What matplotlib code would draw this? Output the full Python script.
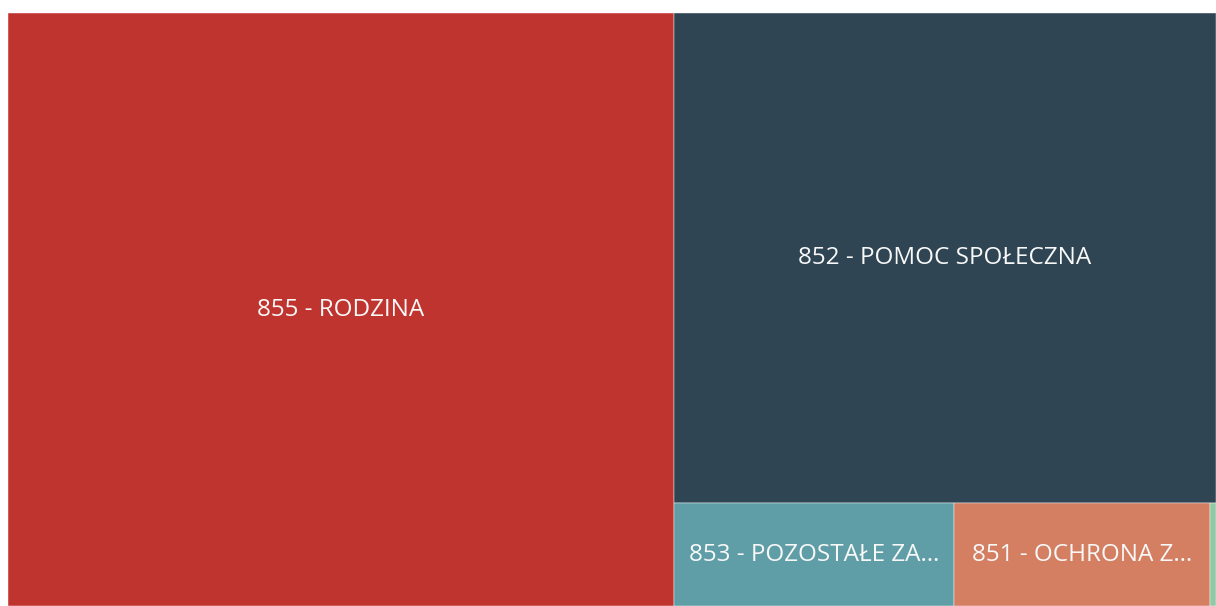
import matplotlib
matplotlib.use("Agg")
import matplotlib.pyplot as plt
from matplotlib.patches import Rectangle

# budget chapters and their amounts (mln zł)
names = [
    "855 - RODZINA",
    "852 - POMOC SPOŁECZNA",
    "853 - POZOSTAŁE ZADANIA W ZAKRESIE POLITYKI SPOŁECZNEJ",
    "851 - OCHRONA ZDROWIA",
    "854 - EDUKACYJNA OPIEKA WYCHOWAWCZA",
]
values = [394.9, 265.6, 28.8, 26.4, 0.6]
colors = ["#C0342F", "#2F4553", "#5F9EA7", "#D47E62", "#8FC9A6"]

W, H = 1208, 593


def worst(row, side):
    s = sum(row)
    return max(max(side * side * r / (s * s), s * s / (side * side * r)) for r in row)


def layout_row(row, x, y, w, h):
    s = sum(row)
    rects = []
    if w >= h:
        # column on the left
        cw = s / h
        yy = y
        for r in row:
            rh = r / cw
            rects.append((x, yy, cw, rh))
            yy += rh
        return rects, (x + cw, y, w - cw, h)
    rh = s / w
    xx = x
    for r in row:
        rw = r / rh
        rects.append((xx, y, rw, rh))
        xx += rw
    return rects, (x, y + rh, w, h - rh)


def squarify(sizes, x, y, w, h):
    rects = []
    sizes = list(sizes)
    while sizes:
        side = min(w, h)
        row = [sizes.pop(0)]
        while sizes and worst(row + [sizes[0]], side) <= worst(row, side):
            row.append(sizes.pop(0))
        r, (x, y, w, h) = layout_row(row, x, y, w, h)
        rects += r
    return rects


total = sum(values)
areas = [v / total * W * H for v in values]
rects = squarify(areas, 0, 0, W, H)

fig = plt.figure(figsize=(12.16, 6.06), dpi=100)
ax = fig.add_axes([8 / 1216, 0, W / 1216, H / 606])
ax.set_xlim(0, W)
ax.set_ylim(H, 0)
ax.axis("off")

renderer = fig.canvas.get_renderer()


def fit_label(text, maxw, **kw):
    t = ax.text(0, 0, text, **kw)
    label = text
    while t.get_window_extent(renderer).width > maxw and len(label) > 1:
        label = label[:-1]
        t.set_text(label.rstrip() + "…")
    t.remove()
    return t.get_text()


for (x, y, w, h), name, c in zip(rects, names, colors):
    ax.add_patch(Rectangle((x, y), w, h, facecolor=c, edgecolor="white", linewidth=0.3))
    if w < 40:
        continue
    kw = dict(fontsize=17.5, family="Open Sans", color="#F8F8F8")
    label = fit_label(name, w - 26, **kw)
    ax.text(x + w / 2, y + h / 2, label, ha="center", va="center", **kw)

fig.savefig("out.png", dpi=100)
